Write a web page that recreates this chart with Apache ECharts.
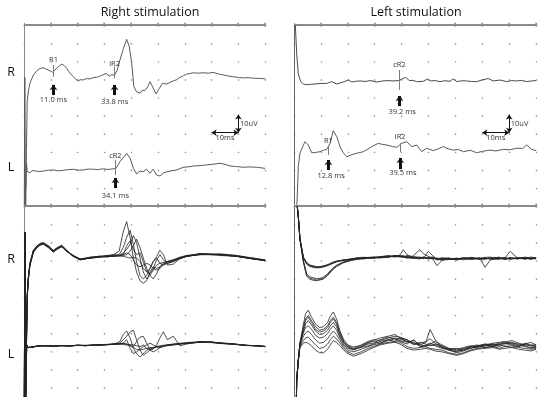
<!DOCTYPE html>
<html><head><meta charset="utf-8">
<script src="https://cdn.jsdelivr.net/npm/echarts@6/dist/echarts.min.js"></script>
<style>html,body{margin:0;padding:0;background:#fff}#c{width:550px;height:397px}</style>
</head><body><div id="c"></div>
<script>
// ---------- text ----------
const panelTitles = ['Right stimulation', 'Left stimulation'];
const channelNames = ['R', 'L'];

// ---------- top-left: right stimulation, single sweep [ms, uV] ----------
const rsR = [[0.7,10],[0.9,30],[1.2,58],[1.6,63],[2.2,67.8],[3.5,72.4],[4.4,74],[5.3,75.5],[6.3,76],[7.2,76.4],[8.5,75.5],[9.8,74.6],[10.7,73.9],[11.5,75],[12.2,76.2],[13.2,77.5],[14.1,78.3],[15.0,77.6],[15.9,76.1],[17.1,73.5],[18.4,71.4],[19.3,70],[20.3,69.2],[21.2,69.8],[22.1,69.6],[23.3,70.4],[24.6,70.2],[25.8,70.9],[27.1,71.1],[28.2,71.6],[29.4,72.4],[30.6,73.3],[31.8,71.8],[32.8,72.6],[33.7,72.2],[34.8,75],[35.8,80.7],[37.1,87.1],[38.3,92.1],[39.3,88],[40.2,78.8],[41.0,66],[42.0,63.1],[43.3,62.3],[44.3,64.1],[45.1,63.7],[46.2,66],[47.0,68.7],[48.0,65.8],[49.3,61.9],[50.5,65],[51.7,67.8],[53.2,67.4],[54.5,68.3],[55.7,69.1],[57,69.8],[58.2,71.1],[59.5,72],[60.7,72.9],[62,73.2],[63.2,73.6],[65,73.4],[66.9,73.6],[68.8,73.4],[70.6,73.8],[72.5,73],[74.4,72.4],[76.3,71.8],[78.1,71.4],[80,71],[81.8,70.8],[83.7,70.9],[85.6,70.6],[87.8,70.5],[90,70.3]];
const rsL = [[0.1,-5],[0.3,71],[0.6,-5],[0.9,24],[1.2,19],[1.6,18.2],[2.2,18.4],[3,19.5],[4.1,19.5],[5.5,19],[7.2,19.3],[9,19.8],[10.9,19.9],[12.8,19.4],[14.7,19.7],[16.5,20.1],[18.4,20.3],[20.2,19.8],[22.1,19.9],[24,20.4],[25.9,20.3],[27.8,20.1],[29.6,20.6],[31,20.2],[32.1,20.3],[33.2,20.5],[34.3,20.8],[35.8,24.5],[37.3,27.2],[38.3,29.1],[39.6,26.4],[40.8,20.8],[42.0,17.7],[43.3,19.3],[44.5,19.0],[45.8,20.3],[47.0,18.1],[48.2,20.3],[49.5,17.1],[50.7,16.6],[52.2,18.4],[54.5,19.3],[57.0,19.9],[59.4,21.4],[61.3,21.6],[63.2,22.1],[65.7,22.3],[68.2,22.7],[70.6,23.1],[73.1,23.6],[75,23],[76.9,22.1],[79.3,21.8],[81.8,21.4],[84.3,21.6],[86.8,21.4],[90,20.8]];

// ---------- top-right: left stimulation, single sweep [ms, uV] ----------
const lsR = [[0.2,125],[0.5,100],[1.0,84],[1.6,73],[2.5,68.7],[3.5,67.4],[4.7,67],[5.9,67.2],[7.8,67.4],[9.7,67.7],[12.1,67.7],[14.0,68.7],[15.9,67.4],[18.3,68.5],[20.2,69.6],[21.4,68.5],[23,68.9],[24.5,69.1],[26.5,68.8],[28.3,69.3],[30.7,68.5],[32.5,69],[34.5,69.3],[36.8,69.1],[38.8,69.3],[40.0,70.0],[41.5,71.1],[42.9,69.3],[44.2,69.4],[45.6,68.7],[48.1,68.9],[49.6,70.2],[50.8,69.1],[52.5,69.3],[54.3,68.7],[56,69.2],[58.0,68.9],[59.2,70.2],[60.5,68.7],[62.3,69.2],[64.2,69.1],[66,68.8],[67.9,68.7],[69.8,69.6],[72.2,70.4],[74.1,69.1],[76.6,69.6],[79.1,68.7],[80.8,69.3],[82.8,69.1],[84.6,69.4],[86.5,68.7],[88.3,69.1],[90,69.3]];
const lsL = [[0.9,-5],[1.2,5],[1.6,21.7],[2.2,29],[3.0,32],[4.1,35.5],[5.3,33.7],[6.6,29.4],[8,29.6],[9.7,30],[11,30.8],[12.2,31.3],[13.4,34.6],[14.6,41.6],[15.9,38.3],[17.1,32.8],[18.3,29.5],[19.6,27.2],[22.0,28.6],[24,29.4],[25.8,30],[27.5,31.5],[28.9,32.8],[31.3,34.6],[33,34],[34.5,33.7],[36.5,32.9],[38.2,32.4],[40.0,34.6],[41.9,35.5],[43.8,32.8],[45.6,33.7],[47.5,30],[49.3,31.9],[51.8,30.6],[53.5,31.5],[55.5,32.8],[57.5,31.5],[59.2,30.9],[61,31.2],[63.0,30],[65.5,30.8],[67.9,29.4],[70,30.2],[72.9,30.9],[75,30.4],[77.8,31.3],[80,31],[82.8,31.9],[85,31.8],[86.5,33.7],[88.3,31.3],[90,30.6]];

// ---------- latencies ----------
const rsMarkerNames = ['R1', 'iR2', 'cR2'];
const rsLatencies = [11.0, 33.8, 34.1];
const lsMarkerNames = ['cR2', 'R1', 'iR2'];
const lsLatencies = [39.2, 12.8, 39.5];
const scaleTimeMs = 10, scaleAmpUv = 10;

// ---------- bottom-left: right stimulation, superimposed sweeps ----------
const rsSweepTimeR = [0.8,1.2,1.6,2.2,3.5,4.8,6,7.2,9.1,10.9,12.4,14.1,15.9,18.4,20.9,24.6,28,31,33.5,35.5,37,38.3,39.6,40.8,42,43.3,44.5,45.8,47,48.2,49.5,50.7,52,53.5,55.7,58,60.7,65.7,73.1,79.4,85.6,90];
const rsSweepsR = [
 [18,56,67,76,84,87,88.5,89,87,84.5,86,87.5,84.5,81,79,80,81,81.5,82,84,95,101,92,80,72,67,65.5,67,72,75,74,75,76.5,78,79,80.5,81.5,82.5,82,81,79.5,78.5],
 [22,59,69,77,84.5,86,87.5,88,86,83.5,85,86.5,84,81.5,79.5,80.5,81,80.5,81.5,82,86,92,96,88,78,70,68,70,74,78,80,77,76,77,78,79.5,81,82,82.5,81.5,80,79],
 [19,57,68.5,76.5,83.5,86.5,88,88.5,87,84,85.5,87,84,81,79,80,80.5,81.5,81,81.5,83,85,88,93,89,80,72,68,70,73,76,77,77.5,78,78.5,80,81,82.5,81.5,81,79.5,78.5],
 [21,58,67.5,75.5,83,86,87.5,88,86.5,83.5,85.5,86.5,84,81.5,79.5,80,80.5,81,81.5,81,81.5,82,84,87,91,86,80,74,70,68,71,75,77,78,79,80,81.5,82,82,81,80,78.5],
 [20,58.5,68.5,77,84.5,87,88,88.5,87,84,86,87,84.5,81,79,80.5,81,81,81,81.5,81,80.5,80,80.5,80,78,74,72,74,78,81,84.5,82,76,76.5,79.5,81,82.5,82,81.5,79.5,79],
 [19,57.5,68,76,83.5,86.5,87.5,88.5,86.5,84,85.5,87,84,81,79.5,80,81,81,81,81.5,82,83,82,79,76,75,76,77,76,74,73,74,76,77.5,78.5,80,81,82,82,81,79.5,78.5],
 [21,58,68,76.5,84,86.5,88,88.5,86.5,83.5,85.5,87,84,81.5,79,80,80.5,81,82,81.5,82,87,90,85,82,83,78,72,71,74,79,82,79,77,78,80,81,82.5,82,81,79.5,79]
];
const rsSweepTimeL = [0.1,0.35,0.6,1.0,1.5,2.2,3.5,5,8,11,14,17,20,23,26,29,32,34,35.8,37,38.3,39.6,40.8,42,43.3,44.5,45.8,47,48.2,49.5,50.7,52,53.5,55.7,58.2,61,65.7,70,73.1,78,83.1,87,90];
const rsSweepsL = [
 [-5,95,-5,30,28.5,27.8,28.8,29.3,29.6,29.2,29.7,29.3,29.9,29.5,30,30.2,30.4,30.6,32,36,38,34,28,25,23,25,27,28,28,29,29.5,29.8,30,30.5,31,31.3,32,31.6,31.2,30.6,29.8,29.4,29.2],
 [-5,95,-5,30,28.3,28,29,29.5,29.4,29.4,29.5,29.5,29.7,29.8,29.8,30.1,30.3,30.8,31,33,35,37.5,38.5,33,27,24,25.5,27,28.5,29,28.5,29.5,29.8,30,30.4,31.2,31.4,31.8,30.8,30.4,29.6,29.6,29],
 [-5,95,-5,30,28.6,27.9,28.7,29.4,29.5,29.3,29.6,29.3,29.8,29.6,29.9,29.8,30.2,30.4,30.6,30.8,30.4,30.2,30,29.5,29,30,28,27,27.5,30,34,37.5,33,35,29.5,30.6,31.8,31.4,31.2,30.6,29.8,29.4,29.2],
 [-5,95,-5,30,28.4,27.8,28.9,29.3,29.6,29.2,29.6,29.5,29.8,29.5,30,30.1,30.2,30.3,30.6,30.2,30,29.6,29,32,34.5,35,31,27,26,27,28.5,29.5,30,30.4,30.8,31,31.5,31.7,31,30.4,29.7,29.5,29],
 [-5,95,-5,30,28.5,28,28.7,29.5,29.4,29.4,29.6,29.4,29.8,29.7,29.8,30,30.3,30.5,30.8,31,33,28,25,26,27.5,29,30,31,30,29,28.5,29,29.5,30,30.5,31,31.6,31.4,31,30.5,29.7,29.6,29.1],
 [-5,95,-5,30,28.6,27.9,28.8,29.4,29.5,29.3,29.5,29.4,29.7,29.6,29.9,30,30.2,30.4,30.4,31,30.5,29.5,28.5,27.5,27,27.5,28,28.5,28.5,28.8,29,29.5,29.8,30.2,30.6,31,31.6,31.3,30.9,30.5,29.7,29.4,29]
];

// ---------- bottom-right: left stimulation, superimposed sweeps ----------
const lsSweepTimeR = [0.6,1.0,1.6,2.2,3.5,4.7,5.9,7.2,8.4,9.7,10.9,12.2,13.4,14.6,15.9,18.3,21,23.3,26,29.5,32,35,37.5,39.4,40.6,42,44,46.8,48.1,49.9,51.5,53.2,55,57.5,60.5,63,66,69,71,73,76,78.5,80.3,83,86,88,90];
const lsSweepsR = [
 [120,113,104,91,80,76.8,75.5,75,74.5,74.8,75.2,75.8,76.8,77.5,78.2,78.5,79.6,80,79.6,80.4,80.8,81.5,80.8,81.8,84.8,82,80,79.5,80.8,79.4,80.4,78.8,79.8,80.2,78.8,79.8,80.4,79.2,80.2,79.4,80.6,79.2,80.4,79.4,80.6,79.6,80.4],
 [120,113,104,91.5,80.5,77.5,76,75.5,75,75,75.5,76,76.5,77,77.8,79,79,80.2,80.5,79.8,80.2,80.4,81.5,80.8,80.5,81.5,81,84.8,82.5,81,80.2,79.8,78.8,79.2,80,79,79.6,80.2,74.7,79,79.6,80.4,79.2,80,79.4,80.2,79.6],
 [120,113,103.5,90.8,80,76.5,75.2,74.6,74.4,74.5,74.8,75.4,76.2,77.2,78,78.9,79,79.6,80.2,80,80.8,81,81.2,81,80.6,80,80.8,80.2,79.6,83.9,81.5,79.2,79,79.8,79.6,80.2,79.2,79.8,80.4,80.6,79.2,80.2,83.9,80.2,79.6,80.6,80],
 [120,113,104,91.2,80.3,77.2,75.8,75.3,75,75.1,75.4,76,76.8,77.8,78.3,78.8,79.5,79.6,80.3,80.5,80.2,80.8,81.4,81.2,80.8,80.2,79.8,80.6,80,80.4,79.8,75.6,78.8,79.6,79.4,79.8,80,79.4,79.6,80,80.2,79.2,80,79.6,80.2,79.4,79.8],
 [120,113,104,91,78,70.1,68.5,67.9,67.4,67.8,68.3,70,72,74,75.6,77.5,78.8,79.4,80,80.2,80.6,80.8,81,81.4,81,80.4,80.2,80,80.4,79.6,80,79.4,79.8,79.2,79.6,79.8,80,79.6,79.6,79.8,80.2,79.4,79.8,80,79.6,80,79.6],
 [120,113,104,91,77.5,69.5,67.8,67.2,67,67.4,68,69.5,71.5,73.5,75.2,77.2,78.5,79.2,79.6,80.4,80.4,81.2,80.6,81,81.5,80.6,80.8,80.4,80,80.2,79.4,80,79.4,79.6,79.2,80.2,79.4,80,80,79.4,79.8,80.2,79.6,80.2,79.8,79.4,80],
 [120,113,104,91.3,78.5,71,69.2,68.6,68.2,68.4,69,70.6,72.6,74.5,76,77.8,79,79.6,80,80.6,80.2,80.6,81.2,80.6,80.8,81,80.4,79.8,80.2,80,80.6,79.6,80.2,79.4,79.8,79.6,80.2,79.8,79.4,80.2,79.8,79.6,80,79.8,80.4,79.8,80.2]
];
const lsSweepTimeL = [0.8,1.0,1.6,2.2,3.5,4.3,5.3,6.5,8,9.5,11,12.5,13.5,14.6,15.8,17.1,18.5,20,22.1,25,27.5,29.5,32,35,37.5,39.4,42,44.5,47,49,50.6,52.5,55,57.5,60.5,63,65.5,68,71,74,76.5,78,81,83.5,86,88,90];
const lsSweepsL = [
 [-10,9.7,21.4,31,42,48,50,46,42,40,40.5,43,46.5,49,45,38,33,30,28.8,29.6,31.5,32,31,33,34,33.4,32,31.5,29,30,31,30,28.5,27.5,27,28,29,28.5,29.5,30.5,30,31,30,29,30.5,29.5,29],
 [-10,9.7,21,30.5,40,45,47,44,40.5,38.5,39,41,44,46,43,37,32,29.5,28,30,32,33,32.5,34,35,34.5,33,30,31,32,33.5,31,29,27,26,27.5,28,29,30,31,31.5,32,30.5,29.5,31,30,30],
 [-10,9.7,21,30,38,42,44,41.5,38,36,36.5,38.5,41,43,40.5,35,31,28.5,27,29,30.5,31,33,34.5,33.5,32.5,31.5,32.5,30,29,30.5,32,30,28,26.5,27,29,30,28.5,29.5,30.5,31,31.5,30,29,28.5,28.8],
 [-10,9.7,21.5,30.5,37,40,41,39,35.5,34,34.5,36.5,39,41,38.5,34,30,28,27.5,28.5,29.5,30.5,32,33,32,34,33,31,30,31.5,38.9,33,28.5,27.5,28,27,28.5,29.5,30.5,29,30,29.5,28.5,29,30.5,31.5,30],
 [-10,9.7,21,29.5,35,37,38,36,33,31,31.5,33.5,36,38,36,32.5,29,27,26,27.5,29,30,31,32.5,33.5,32,30.5,33,29,29.5,30,29.5,28,27,25.5,26.5,28,29,29.5,30,29,30.5,31,30.5,29.5,28,28.5],
 [-10,9.7,21,29,32.5,34,34.5,32.5,30,28,28.5,30.5,33,35,33.5,31,28,26,24.5,26,28,29,30.5,31.5,32,31.5,29,28,28.5,29,28,27.5,27,25.5,24.5,25.5,27,28,28.5,29,28,29,29.5,28.5,28,27.5,28],
 [-10,9.7,20.5,28.5,31,31.5,31,29.5,27,25.5,25.5,27.5,30,32.5,31.5,29.5,27,25,23.5,25,27,28.5,30,31,31.5,30.5,28,27,27.5,28,27.5,26.5,26,25,24,25,26.5,27.5,28,28.5,27.5,28,28.5,27.5,27,26.5,27.5],
 [-10,9.7,21.2,30.8,39,44,46,43,39,37.5,38,40,43,45,42,36,31.5,29,27.5,29,31,32.5,34,35,36,34,32,30.5,31.5,30.5,29.5,30.5,29.5,28,27.5,28.5,29.5,29,30.5,30,31,31.5,32.5,31,30,29.5,29.5]
];

// ================= chart =================
const FONT = '"Open Sans", sans-serif';
const grids = [
  {left: 24,  top: 25,  width: 241.2, height: 181},
  {left: 294, top: 25,  width: 242.1, height: 181},
  {left: 24,  top: 206, width: 241.2, height: 199.65},
  {left: 294, top: 206, width: 242.1, height: 199.65}
];
const yMax = [100, 100, 110, 110];
const xDivs = 9;

const xAxes = grids.map((g, i) => {
  const step = g.height / (yMax[i] / 10);
  return {
    gridIndex: i, type: 'value', min: 0, max: 90, interval: 10, position: 'top',
    axisLine: {show: true, onZero: false, lineStyle: {color: '#888', width: 1}},
    axisTick: {show: true, length: 2, lineStyle: {color: '#888'}},
    axisLabel: {show: false},
    splitLine: {show: true, lineStyle: {color: '#8e8e8e', width: 1.4, type: [1.4, step - 1.4]}}
  };
});
const yAxes = grids.map((g, i) => ({
  gridIndex: i, type: 'value', min: 0, max: yMax[i], interval: 10,
  axisLine: {show: true, onZero: false, lineStyle: {color: i % 2 ? '#666' : '#888', width: 1}},
  axisTick: {show: false}, axisLabel: {show: false}, splitLine: {show: false}
}));

const zip = (t, v) => t.map((x, k) => [x, v[k]]);
function trace(data, gi, color, width, extra) {
  return Object.assign({
    type: 'line', xAxisIndex: gi, yAxisIndex: gi, data, symbol: 'none', showSymbol: false,
    animation: false, silent: true, clip: true, z: 3,
    lineStyle: {color: color, width: width}
  }, extra || {});
}

// marker layout (uV) for each latency: [label, lineTop, lineBottom, arrowTip, arrowTail, msLabel]
const rsLayout = [[80.7, 77.9, 71.4, 66.9, 61.3, 58.6], [78.8, 77, 70.6, 66.9, 61.3, 57.6], [27.8, 25.4, 17.1, 15.5, 9.9, 5.5]];
const lsLayout = [[78.2, 75.1, 64.1, 60.8, 55.2, 52.1], [36.2, 33.7, 28.2, 25.4, 19.9, 16.7], [38.3, 34.8, 29.8, 26.5, 20.4, 18.1]];

function markerLines(lats, layout) {
  const out = [];
  lats.forEach((ms, k) => {
    const L = layout[k];
    out.push([{coord: [ms, L[1]], symbol: 'none', lineStyle: {color: '#7a7a7a', width: 1, type: 'solid'}},
              {coord: [ms, L[2]], symbol: 'none', lineStyle: {color: '#7a7a7a', width: 1, type: 'solid'}}]);
    out.push([{coord: [ms, L[4]], symbol: 'none', lineStyle: {color: '#111', width: 3, type: 'solid'}},
              {coord: [ms, L[3]], symbol: 'arrow', symbolSize: [6, 5], lineStyle: {color: '#111', width: 3, type: 'solid'}}]);
  });
  // scale bars
  const x0 = 80 - scaleTimeMs, x1 = 80, yb = 40.5;
  out.push([{coord: [x0, yb], symbol: 'arrow', symbolSize: [5, 5], lineStyle: {color: '#111', width: 1, type: 'solid'}},
            {coord: [x1, yb], symbol: 'arrow', symbolSize: [5, 5], lineStyle: {color: '#111', width: 1, type: 'solid'}}]);
  out.push([{coord: [x1, yb], symbol: 'arrow', symbolSize: [5, 5], lineStyle: {color: '#111', width: 1, type: 'solid'}},
            {coord: [x1, yb + scaleAmpUv], symbol: 'arrow', symbolSize: [5, 5], lineStyle: {color: '#111', width: 1, type: 'solid'}}]);
  return out;
}
function markerTexts(names, lats, layout, msShift) {
  const out = [];
  lats.forEach((ms, k) => {
    out.push({value: [ms, layout[k][0]], name: names[k]});
    out.push({value: [ms + msShift, layout[k][5]], name: ms.toFixed(1) + ' ms'});
  });
  out.push({value: [80 - scaleTimeMs / 2, 37.6], name: scaleTimeMs + 'ms'});
  out.push({value: [80.2, 45.5], name: scaleAmpUv + 'uV', label: {position: 'right', distance: 1}});
  return out;
}
function textSeries(gi, data) {
  return {
    type: 'scatter', xAxisIndex: gi, yAxisIndex: gi, data, symbolSize: 0.1, silent: true, animation: false, z: 6,
    itemStyle: {color: 'rgba(0,0,0,0)'},
    label: {show: true, position: 'inside', formatter: '{b}', color: '#333', fontSize: 7.5, fontFamily: FONT, opacity: 1}
  };
}
const mlBase = {silent: true, animation: false, label: {show: false}, emphasis: {disabled: true}, symbol: ['none', 'none']};

const sweepColor = 'rgba(35,35,35,0.8)';
const series = [];
series.push(trace(rsR, 0, '#5a5a5a', 1, {markLine: Object.assign({}, mlBase, {data: markerLines(rsLatencies, rsLayout)})}));
series.push(trace(rsL, 0, '#5a5a5a', 1));
series.push(trace(lsR, 1, '#4a4a4a', 1, {markLine: Object.assign({}, mlBase, {data: markerLines(lsLatencies, lsLayout)})}));
series.push(trace(lsL, 1, '#5a5a5a', 1));
series.push(textSeries(0, markerTexts(rsMarkerNames, rsLatencies, rsLayout, 0)));
series.push(textSeries(1, markerTexts(lsMarkerNames, lsLatencies, lsLayout, 1.0)));
rsSweepsR.forEach(v => series.push(trace(zip(rsSweepTimeR, v), 2, sweepColor, 1)));
rsSweepsL.forEach(v => series.push(trace(zip(rsSweepTimeL, v), 2, sweepColor, 1)));
lsSweepsR.forEach(v => series.push(trace(zip(lsSweepTimeR, v), 3, sweepColor, 1)));
lsSweepsL.forEach(v => series.push(trace(zip(lsSweepTimeL, v), 3, sweepColor, 1)));

const txt = (x, y, s, size) => ({type: 'text', x, y, silent: true,
  style: {text: s, fill: '#111', font: size + 'px ' + FONT, align: 'center', verticalAlign: 'middle'}});

// panel top borders with small tick marks, derived from the grid geometry
const borders = [];
grids.forEach(g => {
  const y = Math.round(g.top) - 0.5;
  borders.push({type: 'rect', silent: true, z: 50,
    shape: {x: g.left, y: y - 0.5, width: g.width + 1, height: 1.2},
    style: {fill: '#8c8c8c'}});
  for (let k = 1; k <= xDivs; k++) {
    const x = Math.round(g.left + g.width * k / xDivs);
    borders.push({type: 'rect', silent: true, z: 50,
      shape: {x: x - 0.6, y: y - 2, width: 1.2, height: 4},
      style: {fill: '#8c8c8c'}});
  }
});

const chart = echarts.init(document.getElementById('c'), null, {renderer: 'canvas'});
chart.setOption({
  animation: false,
  backgroundColor: '#fff',
  grid: grids,
  xAxis: xAxes,
  yAxis: yAxes,
  series,
  graphic: {elements: borders.concat([
    txt(150, 12, panelTitles[0], 12.5),
    txt(416, 12, panelTitles[1], 12.5),
    txt(11, 72, channelNames[0], 12.5),
    txt(11, 167.5, channelNames[1], 12.5),
    txt(11, 259, channelNames[0], 12.5),
    txt(11, 354, channelNames[1], 12.5)
  ])}
});
</script></body></html>
